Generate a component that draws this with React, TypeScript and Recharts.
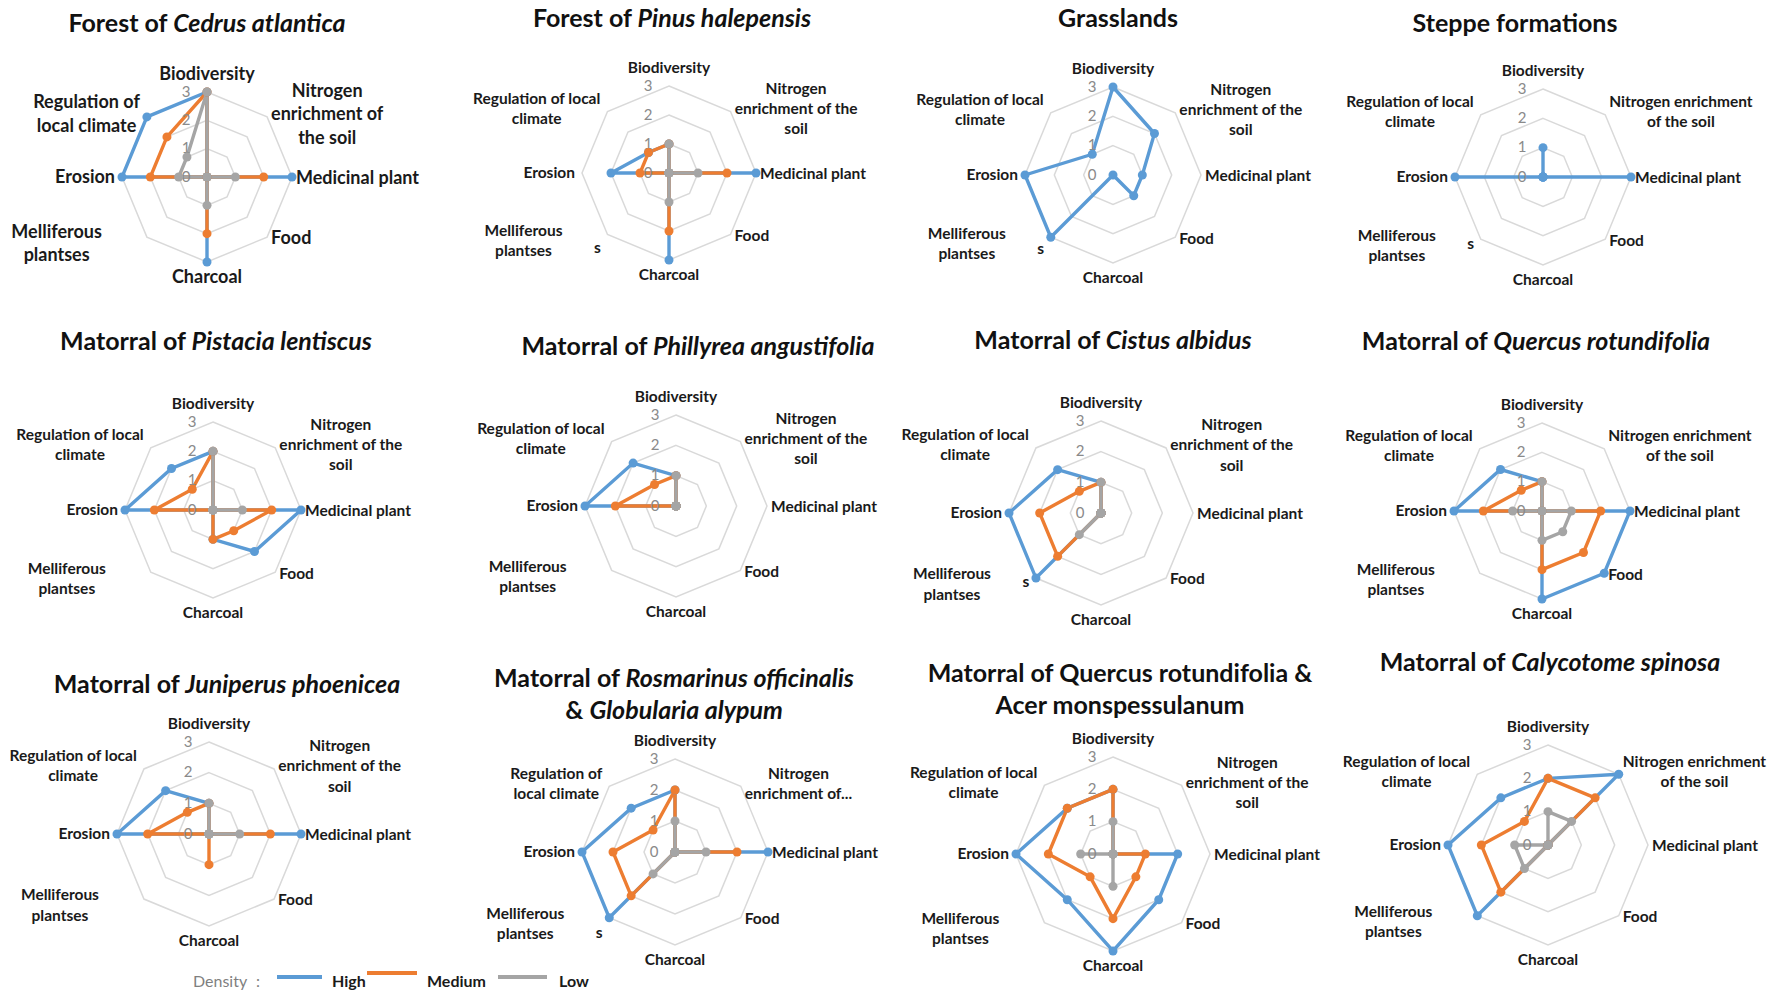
import React from 'react';
import { RadarChart, Radar, PolarGrid, PolarAngleAxis, PolarRadiusAxis } from 'recharts';

const FONT = 'Lato, "Open Sans", sans-serif';
const BLUE = '#5B9BD5';
const ORANGE = '#ED7D31';
const GRAY = '#A5A5A5';

// categories, clockwise from the top
const axes = [
  'Biodiversity',
  'Nitrogen enrichment of the soil',
  'Medicinal plant',
  'Food',
  'Charcoal',
  'Melliferous plantses',
  'Erosion',
  'Regulation of local climate',
];
const radiusTicks = [0, 1, 2, 3];
const seriesNames = ['High', 'Medium', 'Low'];

// values per formation (0..3), same order as axes
const cedrusHigh = [3, 0, 3, 0, 3, 0, 3, 3];
const cedrusMedium = [3, 0, 2, 0, 2, 0, 2, 2];
const cedrusLow = [3, 0, 1, 0, 1, 0, 1, 1];

const pinusHigh = [1, 0, 3, 0, 3, 0, 2, 1];
const pinusMedium = [1, 0, 2, 0, 2, 0, 1, 1];
const pinusLow = [1, 0, 1, 0, 1, 0, 0, 0];

const grassHigh = [3, 2, 1, 1, 0, 3, 3, 1];

const steppeHigh = [1, 0, 3, 0, 0, 0, 3, 0];

const pistaciaHigh = [2, 0, 3, 2, 1, 0, 3, 2];
const pistaciaMedium = [2, 0, 2, 1, 1, 0, 2, 1];
const pistaciaLow = [2, 0, 1, 0, 0, 0, 0, 0];

const phillyreaHigh = [1, 0, 0, 0, 0, 0, 3, 2];
const phillyreaMedium = [1, 0, 0, 0, 0, 0, 2, 1];
const phillyreaLow = [1, 0, 0, 0, 0, 0, 0, 0];

const cistusHigh = [1, 0, 0, 0, 0, 3, 3, 2];
const cistusMedium = [1, 0, 0, 0, 0, 2, 2, 1];
const cistusLow = [1, 0, 0, 0, 0, 1, 0, 0];

const quercusHigh = [1, 0, 3, 3, 3, 0, 3, 2];
const quercusMedium = [1, 0, 2, 2, 2, 0, 2, 1];
const quercusLow = [1, 0, 1, 1, 1, 0, 1, 0];

const juniperusHigh = [1, 0, 3, 0, 0, 0, 3, 2];
const juniperusMedium = [1, 0, 2, 0, 1, 0, 2, 1];
const juniperusLow = [1, 0, 1, 0, 0, 0, 0, 0];

const rosmarinusHigh = [2, 0, 3, 0, 0, 3, 3, 2];
const rosmarinusMedium = [2, 0, 2, 0, 0, 2, 2, 1];
const rosmarinusLow = [1, 0, 1, 0, 0, 1, 0, 0];

const acerHigh = [2, 0, 2, 2, 3, 2, 3, 2];
const acerMedium = [2, 0, 1, 1, 2, 1, 2, 2];
const acerLow = [1, 0, 0, 0, 1, 0, 1, 0];

const calycotomeHigh = [2, 3, 0, 0, 0, 3, 3, 2];
const calycotomeMedium = [2, 2, 0, 0, 0, 2, 2, 1];
const calycotomeLow = [1, 1, 0, 0, 0, 1, 1, 0];

// wrapped axis labels, as they appear in the charts
const nitrogenWrapA = ['Nitrogen', 'enrichment of the', 'soil'];
const nitrogenWrapB = ['Nitrogen enrichment', 'of the soil'];
const nitrogenWrapC = ['Nitrogen', 'enrichment of', 'the soil'];
const nitrogenWrapD = ['Nitrogen', 'enrichment of...'];
const regulationWrapA = ['Regulation of local', 'climate'];
const regulationWrapB = ['Regulation of', 'local climate'];
const melliferousWrap = ['Melliferous', 'plantses'];

type Seg = [string, boolean];

let measureCtx: CanvasRenderingContext2D | null = null;
function textWidth(s: string, fs: number) {
  if (!measureCtx) measureCtx = document.createElement('canvas').getContext('2d');
  if (!measureCtx) return s.length * fs * 0.5;
  measureCtx.font = `bold ${fs}px Lato`;
  return measureCtx.measureText(s).width;
}

interface Panel {
  title: Seg[][];
  tx: number;
  ty: number;
  left: number;
  top: number;
  w: number;
  h: number;
  cx: number;
  cy: number;
  r: number;
  high: number[];
  medium?: number[];
  low?: number[];
  nLabel: string[];
  regLabel: string[];
  fs: number;
  sDy?: number;
}

const LF = 15.5;

const panels: Panel[] = [
  { title: [[['Forest of ', false], ['Cedrus atlantica', true]]], tx: 207, ty: 22, left: 0, top: 0, w: 445, h: 320, cx: 207, cy: 177, r: 85, high: cedrusHigh, medium: cedrusMedium, low: cedrusLow, nLabel: nitrogenWrapC, regLabel: regulationWrapB, fs: 18 },
  { title: [[['Forest of ', false], ['Pinus halepensis', true]]], tx: 672, ty: 17, left: 445, top: 0, w: 445, h: 320, cx: 224, cy: 173, r: 87, high: pinusHigh, medium: pinusMedium, low: pinusLow, nLabel: nitrogenWrapA, regLabel: regulationWrapA, fs: LF, sDy: 13 },
  { title: [[['Grasslands', false]]], tx: 1118, ty: 17, left: 890, top: 0, w: 445, h: 320, cx: 223, cy: 175, r: 88, high: grassHigh, nLabel: nitrogenWrapA, regLabel: regulationWrapA, fs: LF, sDy: 11 },
  { title: [[['Steppe formations', false]]], tx: 1515, ty: 22, left: 1335, top: 0, w: 443, h: 320, cx: 208, cy: 177, r: 88, high: steppeHigh, nLabel: nitrogenWrapB, regLabel: regulationWrapA, fs: LF, sDy: 4 },
  { title: [[['Matorral of ', false], ['Pistacia lentiscus', true]]], tx: 216, ty: 340, left: 0, top: 320, w: 445, h: 330, cx: 213, cy: 190, r: 88, high: pistaciaHigh, medium: pistaciaMedium, low: pistaciaLow, nLabel: nitrogenWrapA, regLabel: regulationWrapA, fs: LF },
  { title: [[['Matorral of ', false], ['Phillyrea angustifolia', true]]], tx: 698, ty: 345, left: 445, top: 320, w: 445, h: 330, cx: 231, cy: 186, r: 91, high: phillyreaHigh, medium: phillyreaMedium, low: phillyreaLow, nLabel: nitrogenWrapA, regLabel: regulationWrapA, fs: LF },
  { title: [[['Matorral of ', false], ['Cistus albidus', true]]], tx: 1113, ty: 339, left: 890, top: 320, w: 445, h: 330, cx: 211, cy: 193, r: 92, high: cistusHigh, medium: cistusMedium, low: cistusLow, nLabel: nitrogenWrapA, regLabel: regulationWrapA, fs: LF, sDy: 4 },
  { title: [[['Matorral of ', false], ['Quercus rotundifolia', true]]], tx: 1536, ty: 340, left: 1335, top: 320, w: 443, h: 330, cx: 207, cy: 191, r: 88, high: quercusHigh, medium: quercusMedium, low: quercusLow, nLabel: nitrogenWrapB, regLabel: regulationWrapA, fs: LF },
  { title: [[['Matorral of ', false], ['Juniperus phoenicea', true]]], tx: 227, ty: 683, left: 0, top: 650, w: 445, h: 341, cx: 209, cy: 184, r: 92, high: juniperusHigh, medium: juniperusMedium, low: juniperusLow, nLabel: nitrogenWrapA, regLabel: regulationWrapA, fs: LF },
  { title: [[['Matorral of ', false], ['Rosmarinus officinalis', true]], [['& ', false], ['Globularia alypum', true]]], tx: 674, ty: 693, left: 445, top: 650, w: 445, h: 341, cx: 230, cy: 202, r: 93, high: rosmarinusHigh, medium: rosmarinusMedium, low: rosmarinusLow, nLabel: nitrogenWrapD, regLabel: regulationWrapB, fs: LF, sDy: 15 },
  { title: [[['Matorral of Quercus rotundifolia &', false]], [['Acer monspessulanum', false]]], tx: 1120, ty: 688, left: 890, top: 650, w: 445, h: 341, cx: 223, cy: 204, r: 97, high: acerHigh, medium: acerMedium, low: acerLow, nLabel: nitrogenWrapA, regLabel: regulationWrapA, fs: LF },
  { title: [[['Matorral of ', false], ['Calycotome spinosa', true]]], tx: 1550, ty: 661, left: 1335, top: 650, w: 443, h: 341, cx: 213, cy: 195, r: 100, high: calycotomeHigh, medium: calycotomeMedium, low: calycotomeLow, nLabel: nitrogenWrapB, regLabel: regulationWrapA, fs: LF },
];

function AngleLabel(props: any, p: Panel) {
  const i: number = props.index;
  const ang = ((90 - i * 45) * Math.PI) / 180;
  const vx = p.cx + p.r * Math.cos(ang);
  const vy = p.cy - p.r * Math.sin(ang);
  let lines = [props.payload.value as string];
  if (i === 1) lines = p.nLabel;
  if (i === 7) lines = p.regLabel;
  if (i === 5) lines = melliferousWrap;
  const lh = p.fs * 1.3;
  const w = Math.max(...lines.map((l) => textWidth(l, p.fs)));
  let bx = vx;
  let by = vy;
  if (i === 0) by = vy - 18;
  else if (i === 4) by = vy + 15;
  else if (i >= 1 && i <= 3) { bx = vx + 4 + w / 2; by = i === 1 ? vy - 3 : vy + 1; }
  else if (i === 5) { bx = vx - 45 - w / 2; by = vy + 6; }
  else { bx = vx - 7 - w / 2; by = i === 7 ? vy - 3 : vy; }
  const y0 = by - ((lines.length - 1) * lh) / 2;
  return (
    <g key={`lab-${i}`}>
      {lines.map((l, k) => (
        <text key={k} x={bx} y={y0 + k * lh} dy="0.35em" textAnchor="middle" fontFamily={FONT} fontWeight={700} fontSize={p.fs} fill="#1a1a1a">
          {l}
        </text>
      ))}
      {i === 5 && p.sDy !== undefined && (
        <text x={vx - 10} y={vy + p.sDy} dy="0.35em" textAnchor="middle" fontFamily={FONT} fontWeight={700} fontSize={p.fs} fill="#1a1a1a">s</text>
      )}
    </g>
  );
}

function RadiusTick(props: any) {
  return (
    <text x={props.x - 21} y={props.y} dy="0.32em" textAnchor="middle" fontFamily={FONT} fontSize={15} fill="#8a8a8a">
      {props.payload.value}
    </text>
  );
}

function RadarPanel({ p }: { p: Panel }) {
  const rows = axes.map((a, i) => ({
    axis: a,
    High: p.high[i],
    Medium: p.medium ? p.medium[i] : undefined,
    Low: p.low ? p.low[i] : undefined,
  }));
  const colors = [BLUE, ORANGE, GRAY];
  const present = [true, !!p.medium, !!p.low];
  return (
    <div style={{ position: 'absolute', left: p.left, top: p.top, width: p.w, height: p.h }}>
      <RadarChart width={p.w} height={p.h} data={rows} cx={p.cx} cy={p.cy} outerRadius={p.r} style={{ overflow: 'visible' }}>
        <PolarGrid gridType="polygon" radialLines={false} stroke="#D9D9D9" strokeWidth={1.5} />
        <PolarAngleAxis dataKey="axis" axisLine={false} tickLine={false} tick={(tp: any) => AngleLabel(tp, p)} />
        <PolarRadiusAxis angle={90} domain={[0, 3]} ticks={radiusTicks as any} tickCount={4} axisLine={false} tickLine={false} tick={RadiusTick} />
        {seriesNames.map((s, k) =>
          present[k] ? (
            <Radar
              key={s}
              name={s}
              dataKey={s}
              stroke={colors[k]}
              strokeWidth={3.4}
              fill={colors[k]}
              fillOpacity={0}
              dot={{ r: 4.5, fill: colors[k], stroke: colors[k], strokeWidth: 0, fillOpacity: 1 }}
              isAnimationActive={false}
            />
          ) : null
        )}
      </RadarChart>
    </div>
  );
}

function Title({ p }: { p: Panel }) {
  return (
    <div
      style={{
        position: 'absolute',
        left: p.tx,
        top: p.ty,
        transform: 'translate(-50%, -50%)',
        fontFamily: FONT,
        fontWeight: 700,
        fontSize: 25,
        lineHeight: '32px',
        color: '#111',
        whiteSpace: 'nowrap',
        textAlign: 'center',
      }}
    >
      {p.title.map((line, li) => (
        <div key={li}>
          {line.map(([t, it], si) => (
            <span key={si} style={{ fontStyle: it ? 'italic' : 'normal' }}>{t}</span>
          ))}
        </div>
      ))}
    </div>
  );
}

function Legend() {
  const items = [
    { name: seriesNames[0], color: BLUE, x1: 277, x2: 322, ly: 977, tx: 332 },
    { name: seriesNames[1], color: ORANGE, x1: 367, x2: 417, ly: 973, tx: 427 },
    { name: seriesNames[2], color: GRAY, x1: 498, x2: 547, ly: 977, tx: 559 },
  ];
  return (
    <svg width={1778} height={991} style={{ position: 'absolute', left: 0, top: 0, pointerEvents: 'none' }}>
      <text x={193} y={981} dy="0.35em" fontFamily={FONT} fontSize={16} fill="#7f7f7f">Density</text>
      <text x={256} y={981} dy="0.35em" fontFamily={FONT} fontSize={16} fill="#7f7f7f">:</text>
      {items.map((it) => (
        <g key={it.name}>
          <line x1={it.x1} x2={it.x2} y1={it.ly} y2={it.ly} stroke={it.color} strokeWidth={4} />
          <text x={it.tx} y={981} dy="0.35em" fontFamily={FONT} fontWeight={700} fontSize={16} fill="#1a1a1a">{it.name}</text>
        </g>
      ))}
    </svg>
  );
}

export default function App() {
  return (
    <div style={{ position: 'absolute', left: 0, top: 0, width: 1778, height: 991, background: '#fff', overflow: 'hidden' }}>
      {panels.map((p, i) => (
        <RadarPanel key={i} p={p} />
      ))}
      {panels.map((p, i) => (
        <Title key={`t${i}`} p={p} />
      ))}
      <Legend />
    </div>
  );
}
